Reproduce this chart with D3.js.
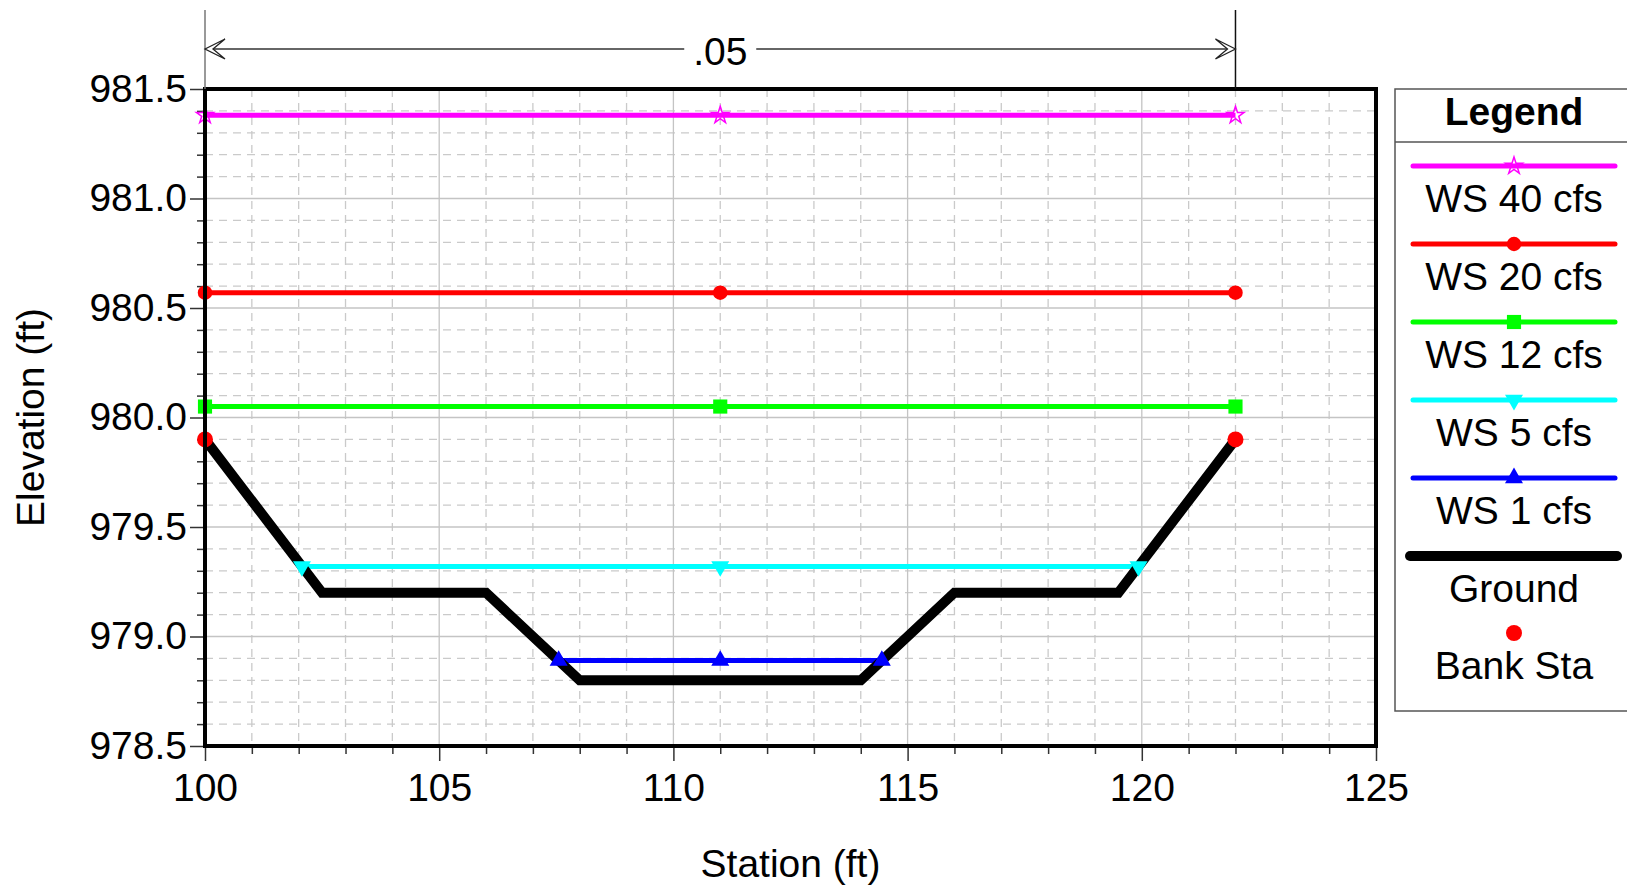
<!DOCTYPE html>
<html>
<head>
<meta charset="utf-8">
<script src="https://cdn.jsdelivr.net/npm/d3@7"></script>
<style>
  body { margin: 0; background: #fff; }
  svg { display: block; font-family: Arial, "Liberation Sans", sans-serif; }
</style>
</head>
<body>
<div id="chart"></div>
<script>
// data
const xTicks = [100, 105, 110, 115, 120, 125];
const yTicks = [978.5, 979.0, 979.5, 980.0, 980.5, 981.0, 981.5];

const wsNames = ['WS 40 cfs', 'WS 20 cfs', 'WS 12 cfs', 'WS 5 cfs', 'WS 1 cfs'];
const wsElev = [981.38, 980.57, 980.05, 979.32, 978.89];
const wsLeft = [100, 100, 100, 102.07, 107.55];
const wsMid = [111, 111, 111, 111, 111];
const wsRight = [122, 122, 122, 119.93, 114.45];
const wsColors = ['#ff00ff', '#ff0000', '#00ff00', '#00ffff', '#0000ff'];

const groundSta = [100, 102.5, 106, 108, 114, 116, 119.5, 122];
const groundElev = [979.9, 979.2, 979.2, 978.8, 978.8, 979.2, 979.2, 979.9];

const bankSta = [100, 122];
const bankElev = [979.9, 979.9];

const nValue = '.05';
const nFrom = 100, nTo = 122;

const W = 1627, H = 886;
const pl = 205, pr = 1376, pt = 89, pb = 746;
const fs = '39px';

const svg = d3.select('#chart').append('svg').attr('width', W).attr('height', H);

const x = d3.scaleLinear().domain([100, 125]).range([pl, pr]);
const y = d3.scaleLinear().domain([978.5, 981.5]).range([pb, pt]);

// Grid
const grid = svg.append('g');
const xMinor = x.ticks(25).filter(d => !xTicks.includes(d));
const yMinor = y.ticks(30).filter(d => !yTicks.some(t => Math.abs(t - d) < 1e-6));
grid.selectAll('.gx').data(xMinor).enter().append('line')
  .attr('x1', d => x(d)).attr('x2', d => x(d)).attr('y1', pt).attr('y2', pb)
  .attr('stroke', '#cacaca').attr('stroke-width', 1.3).attr('stroke-dasharray', '8,6');
grid.selectAll('.gy').data(yMinor).enter().append('line')
  .attr('x1', pl).attr('x2', pr).attr('y1', d => y(d)).attr('y2', d => y(d))
  .attr('stroke', '#cacaca').attr('stroke-width', 1.3).attr('stroke-dasharray', '8,6');
grid.selectAll('.mx').data(xTicks).enter().append('line')
  .attr('x1', d => x(d)).attr('x2', d => x(d)).attr('y1', pt).attr('y2', pb)
  .attr('stroke', '#c4c4c4').attr('stroke-width', 1.3);
grid.selectAll('.my').data(yTicks).enter().append('line')
  .attr('x1', pl).attr('x2', pr).attr('y1', d => y(d)).attr('y2', d => y(d))
  .attr('stroke', '#c4c4c4').attr('stroke-width', 1.3);

// Axes: minor ticks then labelled major ticks
svg.append('g').attr('transform', `translate(${pl},0)`)
  .call(d3.axisLeft(y).tickValues(yMinor).tickSize(8).tickFormat(''))
  .call(g => g.selectAll('.tick line').attr('stroke', '#333').attr('stroke-width', 1.5));
svg.append('g').attr('transform', `translate(${pl},0)`)
  .call(d3.axisLeft(y).tickValues(yTicks).tickSize(15).tickPadding(3).tickFormat(d3.format('.1f')))
  .call(g => g.selectAll('.tick line').attr('stroke', '#333').attr('stroke-width', 1.5))
  .selectAll('text').style('font-size', fs).style('fill', '#000');
svg.append('g').attr('transform', `translate(0,${pb})`)
  .call(d3.axisBottom(x).tickValues(xMinor).tickSize(8).tickFormat(''))
  .call(g => g.selectAll('.tick line').attr('stroke', '#333').attr('stroke-width', 1.5));
svg.append('g').attr('transform', `translate(0,${pb})`)
  .call(d3.axisBottom(x).tickValues(xTicks).tickSize(15).tickPadding(12))
  .call(g => g.selectAll('.tick line').attr('stroke', '#333').attr('stroke-width', 1.5))
  .selectAll('text').style('font-size', fs).style('fill', '#000');
svg.selectAll('.domain').remove();

// Axis titles
svg.append('text').attr('x', (pl + pr) / 2).attr('y', 877).attr('text-anchor', 'middle')
  .style('font-size', fs).text('Station (ft)');
svg.append('text').attr('transform', `translate(44,${(pt + pb) / 2}) rotate(-90)`)
  .attr('text-anchor', 'middle').style('font-size', fs).text('Elevation (ft)');

// Water surfaces
const symbols = [d3.symbolStar, d3.symbolCircle, d3.symbolSquare, d3.symbolTriangle, d3.symbolTriangle];
const symSize = [90, 165, 200, 140, 140];
const symRot = [0, 0, 0, 180, 0];
const plot = svg.append('g');
wsNames.forEach((name, i) => {
  plot.append('line')
    .attr('x1', x(wsLeft[i])).attr('x2', x(wsRight[i]))
    .attr('y1', y(wsElev[i])).attr('y2', y(wsElev[i]))
    .attr('stroke', wsColors[i]).attr('stroke-width', 5);
});

// Ground
const ground = groundSta.map((s, i) => [s, groundElev[i]]);
plot.append('path').datum(ground)
  .attr('d', d3.line().x(d => x(d[0])).y(d => y(d[1])))
  .attr('fill', 'none').attr('stroke', '#000').attr('stroke-width', 10).attr('stroke-linejoin', 'miter');

// Water surface markers
wsNames.forEach((name, i) => {
  const pts = [wsLeft[i], wsMid[i], wsRight[i]];
  plot.selectAll(`.m${i}`).data(pts).enter().append('path')
    .attr('transform', d => `translate(${x(d)},${y(wsElev[i])}) rotate(${symRot[i]})`)
    .attr('d', d3.symbol().type(symbols[i]).size(symSize[i]))
    .attr('fill', i === 0 ? 'none' : wsColors[i])
    .attr('stroke', wsColors[i]).attr('stroke-width', i === 0 ? 1.5 : 0);
});

// Bank stations
plot.selectAll('.bank').data(bankSta).enter().append('circle')
  .attr('cx', d => x(d)).attr('cy', (d, i) => y(bankElev[i])).attr('r', 8).attr('fill', '#ff0000');

// Plot border
svg.append('rect').attr('x', pl).attr('y', pt).attr('width', pr - pl).attr('height', pb - pt)
  .attr('fill', 'none').attr('stroke', '#000').attr('stroke-width', 4);

// Manning's n dimension above the plot
const dimY = 49;
svg.append('line').attr('x1', x(nFrom)).attr('x2', x(nFrom)).attr('y1', 10).attr('y2', pt)
  .attr('stroke', '#777').attr('stroke-width', 1.5);
svg.append('line').attr('x1', x(nTo)).attr('x2', x(nTo)).attr('y1', 10).attr('y2', pt)
  .attr('stroke', '#111').attr('stroke-width', 1.5);
svg.append('line').attr('x1', x(nFrom)).attr('x2', x(nTo)).attr('y1', dimY).attr('y2', dimY)
  .attr('stroke', '#333').attr('stroke-width', 1.5);
[[x(nFrom), 1], [x(nTo), -1]].forEach(([tx, dir]) => {
  svg.append('path')
    .attr('d', `M${tx},${dimY} L${tx + dir * 20},${dimY - 10} L${tx + dir * 8},${dimY} L${tx + dir * 20},${dimY + 10} Z`)
    .attr('fill', '#fff').attr('stroke', '#222').attr('stroke-width', 1.3);
});
const midX = (x(nFrom) + x(nTo)) / 2;
svg.append('rect').attr('x', midX - 36).attr('y', dimY - 15).attr('width', 72).attr('height', 30).attr('fill', '#fff');
svg.append('text').attr('x', midX).attr('y', 65).attr('text-anchor', 'middle')
  .style('font-size', fs).text(nValue);

// Legend
const lg = svg.append('g');
const lx0 = 1395, lcx = 1514;
lg.append('rect').attr('x', lx0).attr('y', pt).attr('width', 260).attr('height', 711 - pt)
  .attr('fill', '#fff').attr('stroke', '#555').attr('stroke-width', 1.5);
lg.append('line').attr('x1', lx0).attr('x2', W).attr('y1', 142).attr('y2', 142)
  .attr('stroke', '#555').attr('stroke-width', 1.5);
lg.append('text').attr('x', lcx).attr('y', 125).attr('text-anchor', 'middle')
  .style('font-size', fs).style('font-weight', 'bold').text('Legend');

const rowY = d3.scaleLinear().domain([0, 1]).range([166, 244]);
wsNames.forEach((name, i) => {
  const ly = rowY(i);
  lg.append('line').attr('x1', 1413).attr('x2', 1615).attr('y1', ly).attr('y2', ly)
    .attr('stroke', wsColors[i]).attr('stroke-width', 5).attr('stroke-linecap', 'round');
  lg.append('path')
    .attr('transform', `translate(${lcx},${ly}) rotate(${symRot[i]})`)
    .attr('d', d3.symbol().type(symbols[i]).size(symSize[i]))
    .attr('fill', i === 0 ? 'none' : wsColors[i])
    .attr('stroke', wsColors[i]).attr('stroke-width', i === 0 ? 1.5 : 0);
  lg.append('text').attr('x', lcx).attr('y', ly + 46).attr('text-anchor', 'middle')
    .style('font-size', fs).text(name);
});
const gy = rowY(5);
lg.append('line').attr('x1', 1410).attr('x2', 1617).attr('y1', gy).attr('y2', gy)
  .attr('stroke', '#000').attr('stroke-width', 10).attr('stroke-linecap', 'round');
lg.append('text').attr('x', lcx).attr('y', gy + 46).attr('text-anchor', 'middle')
  .style('font-size', fs).text('Ground');
const by = rowY(6) - 1;
lg.append('circle').attr('cx', lcx).attr('cy', by).attr('r', 8).attr('fill', '#ff0000');
lg.append('text').attr('x', lcx).attr('y', by + 46).attr('text-anchor', 'middle')
  .style('font-size', fs).text('Bank Sta');
</script>
</body>
</html>
